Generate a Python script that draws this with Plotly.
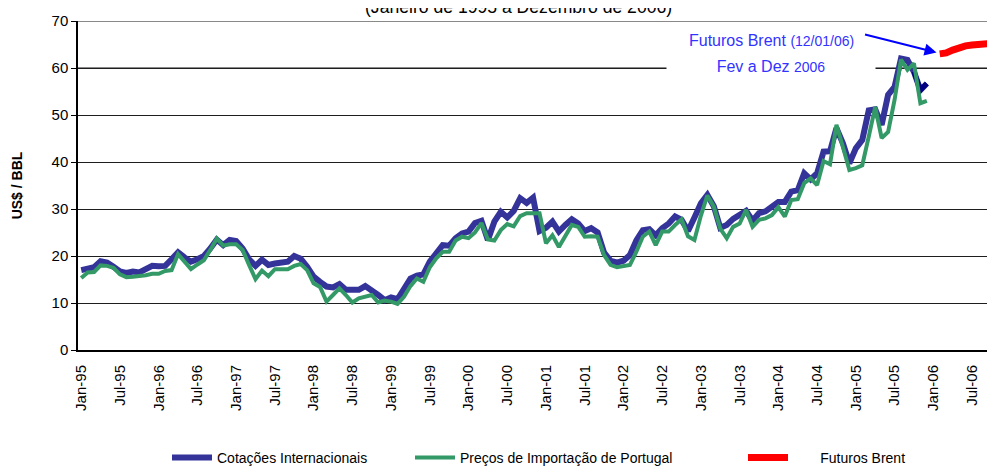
import plotly.graph_objects as go

# ---------------- data ----------------
month_names = ["Jan", "Feb", "Mar", "Apr", "May", "Jun",
               "Jul", "Aug", "Sep", "Oct", "Nov", "Dec"]
years = ["95", "96", "97", "98", "99", "00", "01", "02", "03", "04", "05", "06"]
months = [f"{m}-{y}" for y in years for m in month_names]   # Jan-95 .. Dec-06 (categories)

# Cotações Internacionais (US$/bbl), Jan-95 .. Dec-05
cotacoes = [
    17.0, 17.4, 17.6, 18.9, 18.6, 17.7, 16.7, 16.4, 16.7, 16.5, 17.2, 17.9,   # 1995
    17.8, 17.9, 19.3, 20.8, 19.7, 18.8, 19.3, 20.0, 21.6, 23.5, 22.3, 23.4,   # 1996
    23.2, 21.6, 19.3, 17.9, 19.2, 18.1, 18.4, 18.6, 18.8, 20.0, 19.4, 17.7,   # 1997
    15.6, 14.5, 13.5, 13.3, 14.0, 12.8, 12.8, 12.8, 13.6, 12.8, 11.7, 10.6,   # 1998
    11.2, 10.8, 13.0, 15.2, 15.8, 16.1, 18.8, 20.6, 22.3, 22.2, 23.8, 24.8,   # 1999
    25.2, 27.0, 27.5, 23.4, 27.3, 29.4, 28.2, 29.6, 32.3, 31.3, 32.4, 25.3,   # 2000
    26.0, 27.3, 25.2, 26.6, 27.8, 26.9, 25.3, 25.9, 25.0, 20.7, 19.0, 18.6,   # 2001
    19.0, 20.2, 23.3, 25.5, 25.7, 24.4, 25.9, 26.9, 28.4, 27.7, 25.3, 28.2,   # 2002
    31.2, 33.0, 30.6, 26.0, 26.6, 27.9, 28.7, 29.6, 27.5, 29.1, 29.5, 30.4,   # 2003
    31.5, 31.5, 33.7, 34.0, 37.6, 36.3, 37.6, 42.2, 42.3, 47.2, 44.0, 39.7,   # 2004
    42.9, 44.7, 51.0, 51.2, 47.9, 54.3, 56.0, 62.0, 61.7, 59.2, 55.3, 56.7,   # 2005
]

# Preços de Importação de Portugal (US$/bbl), Jan-95 .. Dec-05
importacao = [
    15.3, 16.5, 16.6, 18.0, 17.9, 17.5, 16.1, 15.5, 15.6, 15.7, 15.9, 16.2,   # 1995
    16.2, 16.8, 17.0, 20.4, 18.8, 17.2, 18.2, 19.1, 21.3, 23.7, 22.2, 22.5,   # 1996
    22.5, 21.3, 18.1, 15.1, 16.9, 15.7, 17.2, 17.2, 17.2, 17.9, 18.3, 17.0,   # 1997
    14.2, 13.4, 10.3, 11.7, 13.1, 11.7, 10.1, 11.0, 11.3, 11.7, 10.1, 10.5,   # 1998
    10.3, 9.8, 11.3, 13.6, 15.2, 14.5, 17.6, 19.5, 20.9, 20.9, 23.3, 24.1,    # 1999
    23.8, 25.0, 27.0, 23.5, 23.3, 25.5, 26.8, 26.3, 28.5, 29.1, 29.1, 29.1,   # 2000
    22.7, 24.4, 21.9, 24.4, 26.6, 26.2, 24.1, 24.2, 24.1, 20.2, 18.1, 17.6,   # 2001
    17.9, 18.1, 20.9, 24.1, 25.2, 22.3, 25.2, 25.2, 26.6, 27.8, 24.2, 23.4,   # 2002
    28.6, 32.9, 30.5, 25.8, 23.8, 26.2, 26.9, 29.8, 26.2, 27.7, 28.0, 28.7,   # 2003
    30.4, 28.4, 31.9, 32.1, 35.5, 36.5, 35.1, 40.2, 39.5, 47.9, 43.2, 38.3,   # 2004
    38.7, 39.3, 45.4, 51.7, 45.1, 46.4, 53.2, 61.8, 59.6, 61.0, 52.5, 53.0,   # 2005
]

# Futuros Brent (12/01/06), Feb-06 .. Dec-06
futuros = [63.0, 63.2, 63.8, 64.4, 64.7, 64.9, 65.1, 65.2, 65.3, 65.4, 65.5]

y_ticks = [0, 10, 20, 30, 40, 50, 60, 70]
x_tick_labels = months[::6]

# ---------------- figure ----------------
FONT = "Liberation Sans, Arial, sans-serif"

x_hist = months[:len(cotacoes)]
x_fut = months[len(cotacoes) + 1: len(cotacoes) + 1 + len(futuros)]

fig = go.Figure()
fig.add_trace(go.Scatter(
    x=x_hist, y=cotacoes, mode="lines", name="Cotações Internacionais",
    line=dict(color="#333399", width=6), legend="legend"))
# darker tail of the international quotations line
fig.add_trace(go.Scatter(
    x=x_hist[-3:], y=cotacoes[-3:], mode="lines", showlegend=False,
    line=dict(color="#000080", width=5), hoverinfo="skip"))
fig.add_trace(go.Scatter(
    x=x_hist, y=importacao, mode="lines", name="Preços de Importação de Portugal",
    line=dict(color="#339966", width=4), legend="legend2"))
fig.add_trace(go.Scatter(
    x=x_fut, y=futuros, mode="lines",
    name="\u00a0" * 7 + "Futuros Brent",
    line=dict(color="#FF0000", width=7), legend="legend3"))

# page is drawn with the browser's 8px body margin -> figure coords = page coords - 8
OFF = 8
PAGE_W, PAGE_H = 995, 466
W, H = PAGE_W - OFF, PAGE_H - OFF
PLOT_L, PLOT_T, PLOT_B = 78, 21, 350          # page pixels of the plot area
L, T, R = PLOT_L - OFF, PLOT_T - OFF, 0
B = H - (PLOT_B - OFF)
pw, ph = W - L - R, (PLOT_B - PLOT_T)

def px_x(p):          # page px -> paper x
    return (p - PLOT_L) / pw

def px_y(p):          # page px -> paper y
    return (PLOT_B - p) / ph

def cont_x(p):        # page px -> container x
    return (p - OFF) / W

def cont_y(p):        # page px -> container y
    return (H - (p - OFF)) / H

legend_common = dict(orientation="h", yanchor="middle", xanchor="left",
                     xref="container", yref="container",
                     font=dict(family=FONT, size=14, color="#000"),
                     bgcolor="rgba(0,0,0,0)", itemwidth=40,
                     tracegroupgap=0)

fig.update_layout(
    width=W, height=H,
    margin=dict(l=L, r=R, t=T, b=B, pad=0, autoexpand=False),
    paper_bgcolor="white", plot_bgcolor="white",
    font=dict(family=FONT, size=14, color="#000"),
    showlegend=True,
    legend=dict(x=cont_x(167), y=cont_y(458), **legend_common),
    legend2=dict(x=cont_x(410), y=cont_y(458), **legend_common),
    legend3=dict(x=cont_x(743), y=cont_y(458), **legend_common),
    xaxis=dict(
        type="category", categoryorder="array", categoryarray=months,
        range=[-0.5, pw / 6.455 - 0.5],
        tickmode="array", tickvals=x_tick_labels, ticktext=x_tick_labels,
        tickangle=-90, tickfont=dict(family=FONT, size=15, color="#000"),
        ticks="", ticklabelstandoff=7, automargin=False,
        showgrid=False, showline=True, linecolor="#000", linewidth=2,
        zeroline=False, fixedrange=True),
    yaxis=dict(
        range=[0, 70], tickmode="array", tickvals=y_ticks,
        tickfont=dict(family=FONT, size=15, color="#000"),
        ticks="outside", ticklen=5, tickcolor="#000", tickwidth=1,
        showgrid=True, gridcolor="#1e1e1e", gridwidth=1,
        showline=True, linecolor="#000", linewidth=1.5,
        zeroline=False, fixedrange=True, automargin=False,
        title=dict(text="<b>US$ / BBL</b>", font=dict(family=FONT, size=14, color="#000"),
                   standoff=26)),
)

# lighter upper grid lines
for gv in (60, 70):
    fig.add_shape(type="line", xref="paper", yref="y", x0=0, x1=1, y0=gv, y1=gv,
                  line=dict(color="#8a8a8a", width=2), layer="below")

# title (partly cut at the top of the picture, as in the source)
fig.add_annotation(text="(Janeiro de 1995 a Dezembro de 2006)", xref="paper", yref="paper",
                   x=px_x(518), y=px_y(7), xanchor="center", yanchor="middle",
                   showarrow=False, font=dict(family=FONT, size=17.6, color="#000"))

# futures note
fig.add_annotation(
    text="Futuros Brent <span style='font-size:14px'>(12/01/06)</span>",
    xref="paper", yref="paper", x=px_x(771), y=px_y(40), xanchor="center", yanchor="middle",
    showarrow=False, font=dict(family=FONT, size=16, color="#3333FF"))
fig.add_annotation(
    text="Fev a Dez <span style='font-size:14px'>2006</span>",
    xref="paper", yref="paper", x=px_x(771), y=px_y(66), xanchor="center", yanchor="middle",
    width=208, height=22, bgcolor="white", borderpad=0,
    showarrow=False, font=dict(family=FONT, size=16, color="#3333FF"))
fig.add_annotation(
    text="", x=132.5, y=63.3, xref="x", yref="y",
    showarrow=True, ax=-73, ay=-18.4, axref="pixel", ayref="pixel",
    arrowhead=2, arrowsize=1.2, arrowwidth=2, arrowcolor="#0000FF", standoff=0)

fig.write_html("out.html")
